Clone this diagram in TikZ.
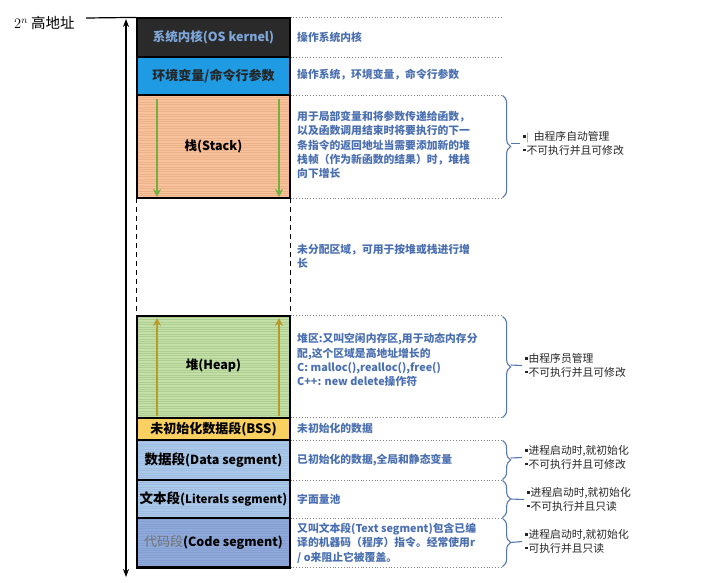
\documentclass[tikz,border=0pt]{standalone}
\usepackage{fontspec}
\setmainfont{Noto Sans CJK SC}
\usetikzlibrary{decorations.pathreplacing,calc,arrows.meta}

\definecolor{kernelbg}{HTML}{2A2A2A}
\definecolor{kerneltxt}{HTML}{7EA7DA}
\definecolor{envbg}{HTML}{1E9BE2}
\definecolor{stackbg}{HTML}{F8C39C}
\definecolor{stackln}{HTML}{EDB188}
\definecolor{heapbg}{HTML}{C4E0A8}
\definecolor{heapln}{HTML}{ADCE90}
\definecolor{bssbg}{HTML}{FAD160}
\definecolor{databg}{HTML}{A9C8EA}
\definecolor{dataln}{HTML}{9DBCE0}
\definecolor{codebg}{HTML}{8FA9DA}
\definecolor{codeln}{HTML}{84A0D2}
\definecolor{desc}{HTML}{4A6FB0}
\definecolor{bracec}{HTML}{5676B0}
\definecolor{grn}{HTML}{74B040}
\definecolor{gold}{HTML}{B89C2A}
\definecolor{notec}{HTML}{262626}

% small square bullet used in the property lists
\newcommand{\bul}{\rule[3.2pt]{2.6pt}{2.6pt}\hspace{0.8pt}}

\tikzset{
  seg/.style={draw=black, line width=1.2pt, minimum width=153pt, inner sep=0pt,
    font=\bfseries\fontsize{12.5}{14}\selectfont},
  hatched/.style={path picture={
    \foreach \i in {0,...,60}
      \draw[#1, line width=0.5pt]
        ([yshift=\i*2.4pt]path picture bounding box.south west) --
        ([yshift=\i*2.4pt]path picture bounding box.south east);}},
  dsc/.style={anchor=west, text=desc, inner sep=0pt, align=left,
    font=\bfseries\fontsize{10.8}{14.3}\selectfont},
  sepline/.style={gray, dotted, line width=0.8pt},
  note/.style={anchor=west, align=left, inner sep=3pt, text=notec,
    font=\fontsize{10.8}{13.5}\selectfont},
  brc/.style={bracec, line width=1.1pt, decorate,
    decoration={brace, amplitude=8pt}},
  tail/.style={bracec, line width=1.1pt},
  growarrow/.style={line width=1.5pt, -{Stealth[length=8pt,width=8pt]}},
}

\begin{document}
\begin{tikzpicture}[x=1pt, y=-1pt]
\useasboundingbox (0,0) rectangle (720,582);

% ---- memory segments (left column) ----
\node[seg, fill=kernelbg, text=kerneltxt, minimum height=39pt] (kernel) at (213.5,37.5)
  {系统内核(OS kernel)};
\node[seg, fill=envbg, text=black!85, minimum height=38pt, font=\bfseries\fontsize{13}{14}\selectfont] (env) at (213.5,76)
  {环境变量/命令行参数};
\node[seg, fill=stackbg, hatched=stackln, minimum height=103pt] (stack) at (213.5,146.5)
  {栈(Stack)};
\node[minimum width=153pt, minimum height=118pt, inner sep=0pt] (free) at (213.5,257) {};
\node[seg, fill=heapbg, hatched=heapln, minimum height=102pt] (heap) at (213.5,367)
  {\raisebox{5pt}{堆(Heap)}};
\node[seg, fill=bssbg, minimum height=22pt, font=\bfseries\fontsize{13}{14}\selectfont] (bss) at (213.5,429)
  {未初始化数据段(BSS)};
\node[seg, fill=databg, hatched=dataln, minimum height=40pt] (data) at (213.5,460)
  {{\fontsize{13.5}{14}\selectfont 数据段}(Data segment)};
\node[seg, fill=databg, hatched=dataln, minimum height=38pt] (lit) at (213.5,499)
  {{\fontsize{13.5}{14}\selectfont 文本段}({\fontsize{11.5}{14}\selectfont Literals segment})};
\node[seg, fill=codebg, hatched=codeln, minimum height=49pt] (code) at (213.5,542.5)
  {{\mdseries\color{black!55}\fontsize{13}{14}\selectfont 代码段}(Code segment)};
\draw[line width=2pt] (code.south west) -- (code.south east);

% unallocated gap between stack and heap
\draw[line width=1.3pt, dash pattern=on 5pt off 4pt] (free.north west) -- (free.south west);
\draw[line width=1.3pt, dash pattern=on 5pt off 4pt] (free.north east) -- (free.south east);

% growth directions of stack and heap
\coordinate (sa1) at (157,99);  \coordinate (sb1) at (157,197);
\coordinate (sa2) at (279,99);  \coordinate (sb2) at (279,197);
\draw[growarrow, grn] (sa1) -- (sb1);
\draw[growarrow, grn] (sa2) -- (sb2);
\coordinate (ha1) at (157,416); \coordinate (hb1) at (157,318);
\coordinate (ha2) at (279,416); \coordinate (hb2) at (279,318);
\draw[growarrow, gold] (ha1) -- (hb1);
\draw[growarrow, gold] (ha2) -- (hb2);

% ---- address axis ----
\node[inner sep=0pt, anchor=west] (hiaddr) at (14,23)
  {\fontsize{14.5}{14}\selectfont$2^n$ 高地址};
\coordinate (hi) at (86,18);
\draw[line width=1.2pt] (hi) -- (kernel.north west);
\coordinate (axtop) at (126,19);
\coordinate (axbot) at (126,577);
\draw[line width=1.4pt, {Stealth[length=8pt,width=6pt]}-{Stealth[length=8pt,width=6pt]}] (axbot) -- (axtop);

% ---- dotted separators of the description column ----
\foreach \s in {kernel.north east, kernel.south east, env.south east, stack.south east,
                heap.north east, bss.north east, bss.south east, data.south east,
                lit.south east, code.south east}
  \draw[sepline] (\s) -- ++(212,0);

% ---- descriptions ----
\node[dsc] (dkernel) at (297,37) {操作系统内核};
\node[dsc] (denv) at (297,75) {操作系统，环境变量，命令行参数};
\node[dsc] (dstack) at (297,145)
  {用于局部变量和将参数传递给函数，\\以及函数调用结束时将要执行的下一\\条指令的返回地址当需要添加新的堆\\栈帧（作为新函数的结果）时，堆栈\\向下增长};
\node[dsc] (dfree) at (297,256) {未分配区域，可用于按堆或栈进行增\\长};
\node[dsc] (dheap) at (297,360)
  {堆区:又叫空闲内存区,用于动态内存分\\配,这个区域是高地址增长的\\C: malloc(),realloc(),free()\\C++: new delete操作符};
\node[dsc] (dbss) at (297,428) {未初始化的数据};
\node[dsc] (ddata) at (297,460) {已初始化的数据,全局和静态变量};
\node[dsc] (dlit) at (297,499) {字面量池};
\node[dsc] (dcode) at (297,543)
  {又叫文本段(Text segment)包含已编\\译的机器码（程序）指令。经常使用r\\/ o来阻止它被覆盖。};

% ---- braces and properties ----
\draw[brc] ($(stack.north east)+(212,1)$) -- ($(stack.south east)+(212,-1)$);
\coordinate (tstack) at ($(stack.east)+(220,-3)$);
\node[note] (nstack) at (520,143.5)
  {\bul{\color{black!55}\fontsize{9}{9}\selectfont|}\ \ 由程序自动管理\\\bul 不可执行并且可修改};
\draw[tail] (tstack) -- (nstack.west);

\draw[brc] ($(heap.north east)+(212,1)$) -- ($(heap.south east)+(212,-1)$);
\coordinate (theap) at ($(heap.east)+(220,-2)$);
\node[note] (nheap) at (522,365.5) {\bul 由程序员管理\\\bul 不可执行并且可修改};
\draw[tail] (theap) -- (nheap.west);

\draw[brc] ($(data.north east)+(212,1)$) -- ($(data.south east)+(212,-1)$);
\coordinate (tdata) at ($(data.east)+(220,-2)$);
\node[note] (ndata) at (522,457.5) {\bul 进程启动时,就初始化\\\bul 不可执行并且可修改};
\draw[tail] (tdata) -- (ndata.west);

\draw[brc] ($(lit.north east)+(212,1)$) -- ($(lit.south east)+(212,-1)$);
\coordinate (tlit) at ($(lit.east)+(220,0)$);
\node[note] (nlit) at (524,499.5) {\bul 进程启动时,就初始化\\\bul 不可执行并且只读};
\draw[tail] (tlit) -- (nlit.west);

\draw[brc] ($(code.north east)+(212,1)$) -- ($(code.south east)+(212,-1)$);
\coordinate (tcode) at ($(code.east)+(220,0)$);
\node[note] (ncode) at (522,541.5) {\bul 进程启动时,就初始化\\\bul 可执行并且只读};
\draw[tail] (tcode) -- (ncode.west);
\end{tikzpicture}
\end{document}
